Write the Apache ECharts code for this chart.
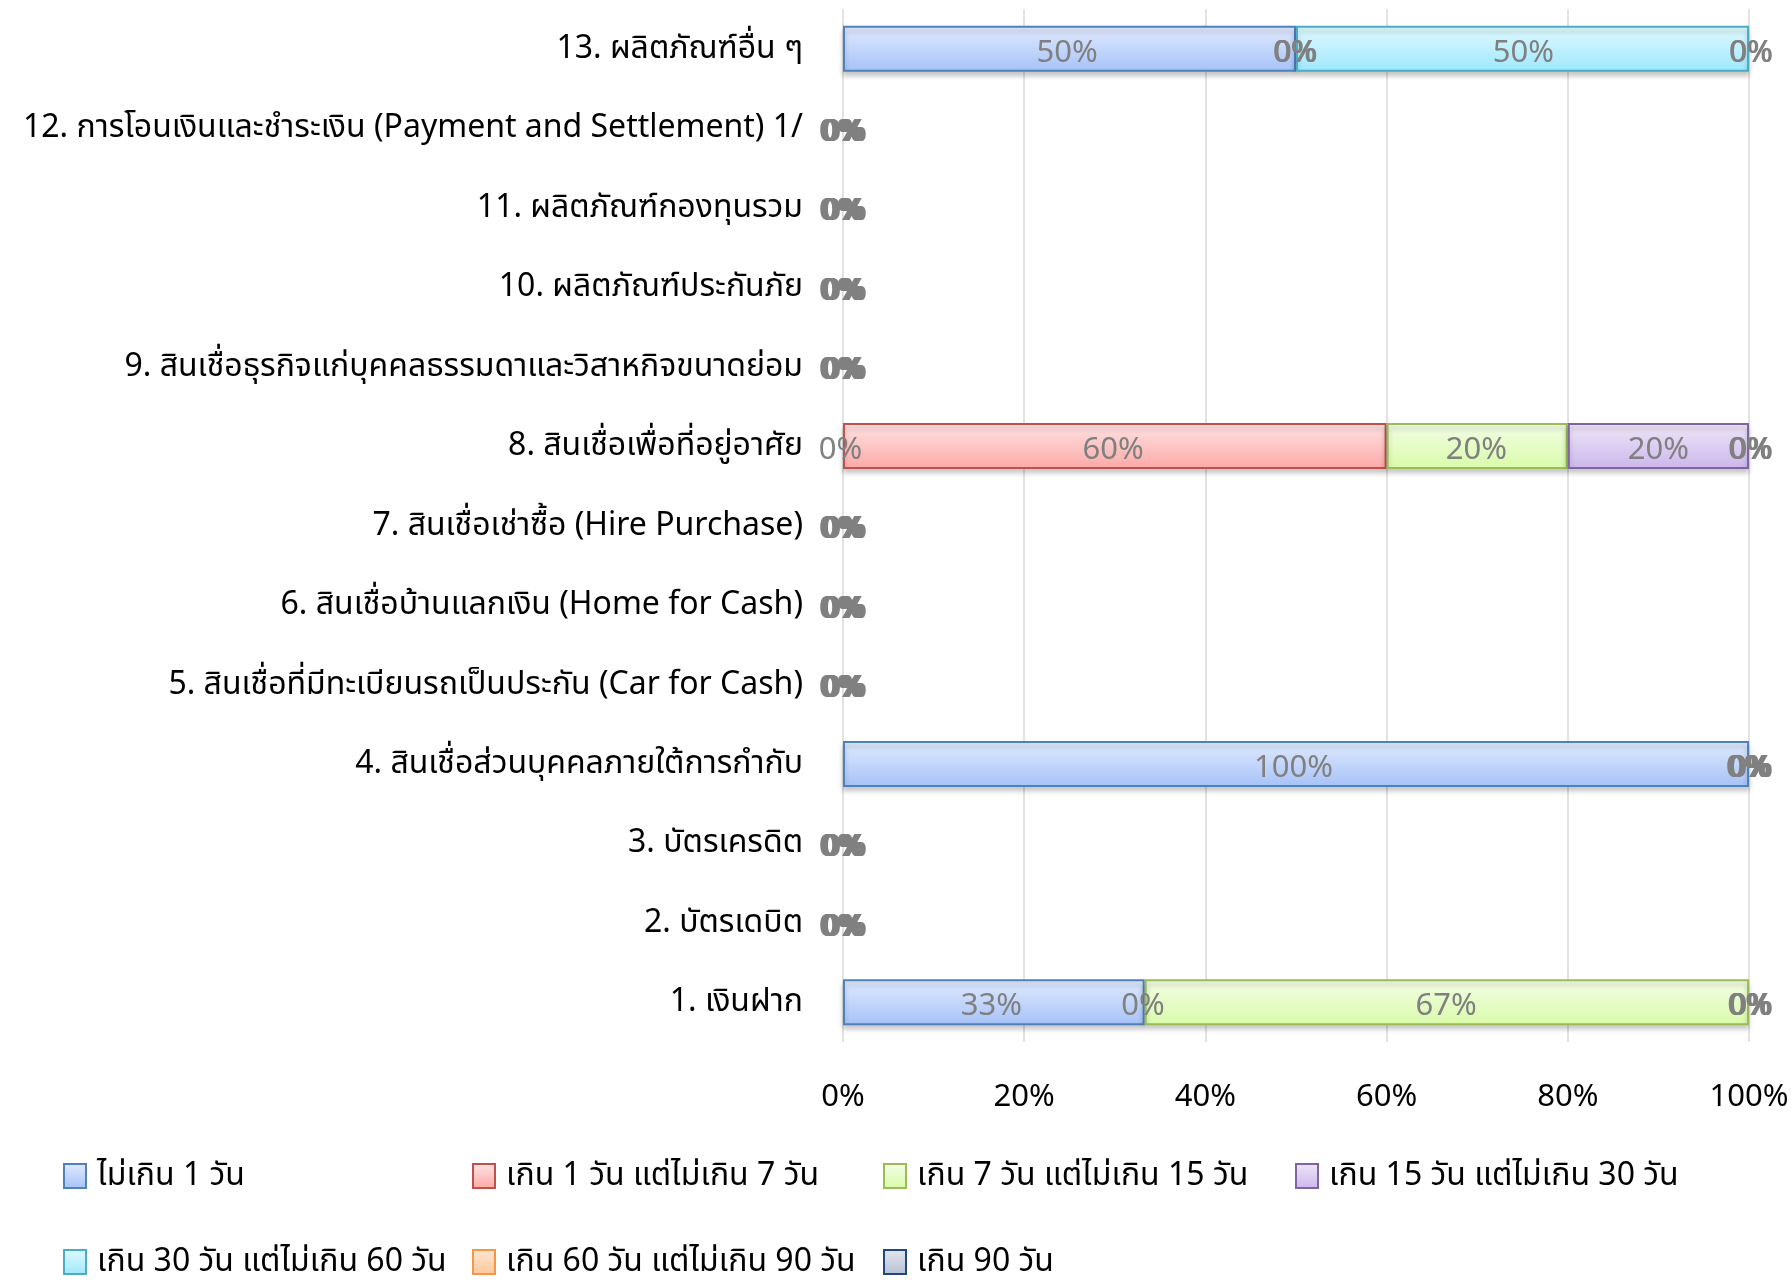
<!DOCTYPE html>
<html><head><meta charset="utf-8">
<script src="https://cdn.jsdelivr.net/npm/echarts@6/dist/echarts.min.js"></script>
<style>html,body{margin:0;padding:0;background:#fff}#c{width:1792px;height:1280px}</style>
</head><body><div id="c"></div>
<script>
const categories = [
  "1. เงินฝาก",
  "2. บัตรเดบิต",
  "3. บัตรเครดิต",
  "4. สินเชื่อส่วนบุคคลภายใต้การกำกับ",
  "5. สินเชื่อที่มีทะเบียนรถเป็นประกัน (Car for Cash)",
  "6. สินเชื่อบ้านแลกเงิน (Home for Cash)",
  "7. สินเชื่อเช่าซื้อ (Hire Purchase)",
  "8. สินเชื่อเพื่อที่อยู่อาศัย",
  "9. สินเชื่อธุรกิจแก่บุคคลธรรมดาและวิสาหกิจขนาดย่อม",
  "10. ผลิตภัณฑ์ประกันภัย",
  "11. ผลิตภัณฑ์กองทุนรวม",
  "12. การโอนเงินและชำระเงิน (Payment and Settlement) 1/",
  "13. ผลิตภัณฑ์อื่น ๆ"
];
const seriesNames = [
  "ไม่เกิน 1 วัน",
  "เกิน 1 วัน แต่ไม่เกิน 7 วัน",
  "เกิน 7 วัน แต่ไม่เกิน 15 วัน",
  "เกิน 15 วัน แต่ไม่เกิน 30 วัน",
  "เกิน 30 วัน แต่ไม่เกิน 60 วัน",
  "เกิน 60 วัน แต่ไม่เกิน 90 วัน",
  "เกิน 90 วัน"
];
const s1 = [33.3, 0, 0, 100, 0, 0, 0, 0, 0, 0, 0, 0, 50];
const s2 = [0, 0, 0, 0, 0, 0, 0, 60, 0, 0, 0, 0, 0];
const s3 = [66.7, 0, 0, 0, 0, 0, 0, 20, 0, 0, 0, 0, 0];
const s4 = [0, 0, 0, 0, 0, 0, 0, 20, 0, 0, 0, 0, 0];
const s5 = [0, 0, 0, 0, 0, 0, 0, 0, 0, 0, 0, 0, 50];
const s6 = [0, 0, 0, 0, 0, 0, 0, 0, 0, 0, 0, 0, 0];
const s7 = [0, 0, 0, 0, 0, 0, 0, 0, 0, 0, 0, 0, 0];
const xTicks = [0, 20, 40, 60, 80, 100];

const seriesData = [s1, s2, s3, s4, s5, s6, s7];
const borders = ["#4f81bd", "#c0504d", "#9bbb59", "#8064a2", "#4bacc6", "#f79646", "#1f497d"];
const fillTop = ["#e1eafd", "#fde3e3", "#f3fde6", "#eee7f7", "#e0f9ff", "#fee6d3", "#e3e7ee"];
const fillBot = ["#a6c2f8", "#fca9a7", "#d9fba9", "#cbb6ec", "#9ee8fc", "#fcc79a", "#b6c0d3"];

const FONT = "'Noto Sans', 'Noto Sans Thai', Tahoma, sans-serif";
const LFONT = "'Liberation Sans Narrow', 'Noto Sans', sans-serif";

const chart = echarts.init(document.getElementById('c'), null, {renderer: 'canvas'});
const series = seriesData.map((d, i) => ({
  name: seriesNames[i],
  type: 'bar',
  stack: 'total',
  barWidth: 46,
  data: d.map(v => v === 0
    ? {value: v, itemStyle: {color: 'rgba(0,0,0,0)', borderWidth: 0, shadowBlur: 0, shadowOffsetY: 0, shadowColor: 'rgba(0,0,0,0)'}}
    : {value: v}),
  itemStyle: {
    color: new echarts.graphic.LinearGradient(0, 0, 0, 1, [
      {offset: 0, color: fillTop[i]}, {offset: 1, color: fillBot[i]}
    ]),
    borderColor: borders[i],
    borderWidth: 2,
    shadowColor: 'rgba(0,0,0,0.22)',
    shadowBlur: 5,
    shadowOffsetY: 4
  },
  label: {
    show: true,
    position: 'inside',
    offset: [(i - 3) * 0.8, 4],
    color: '#808080',
    fontFamily: LFONT,
    fontSize: 31,
    formatter: p => Math.round(p.value) + '%'
  },
  emphasis: {disabled: true}
}));

const legendCols = [[0, 4], [1, 5], [2, 6], [3]];
const legendLeft = [63, 472, 883, 1295];
const legends = legendCols.map((idx, c) => ({
  orient: 'vertical',
  left: legendLeft[c],
  top: 1159,
  padding: 0,
  itemGap: 52,
  itemWidth: 22,
  itemHeight: 24,
  icon: 'rect',
  itemStyle: {shadowBlur: 0, shadowOffsetY: 0, borderWidth: 2},
  data: idx.map(k => seriesNames[k]),
  textStyle: {fontFamily: FONT, fontSize: 32, color: '#000', lineHeight: 34, padding: [0, 0, 0, 6]}
}));

chart.setOption({
  animation: false,
  backgroundColor: '#fff',
  grid: {left: 843, right: 43, top: 9, bottom: 238, containLabel: false},
  legend: legends,
  xAxis: {
    type: 'value',
    min: 0, max: 100, interval: 20,
    axisLabel: {
      formatter: v => xTicks.includes(v) ? v + '%' : '',
      fontFamily: FONT, fontSize: 31, color: '#000', margin: 40
    },
    axisLine: {show: false},
    axisTick: {show: false},
    splitLine: {show: true, lineStyle: {color: '#d9d9d9', width: 1.5}}
  },
  yAxis: {
    type: 'category',
    data: categories,
    axisLabel: {fontFamily: FONT, fontSize: 32, color: '#000', margin: 40},
    axisLine: {show: false},
    axisTick: {show: false},
    splitLine: {show: false}
  },
  series: series
});
</script></body></html>
